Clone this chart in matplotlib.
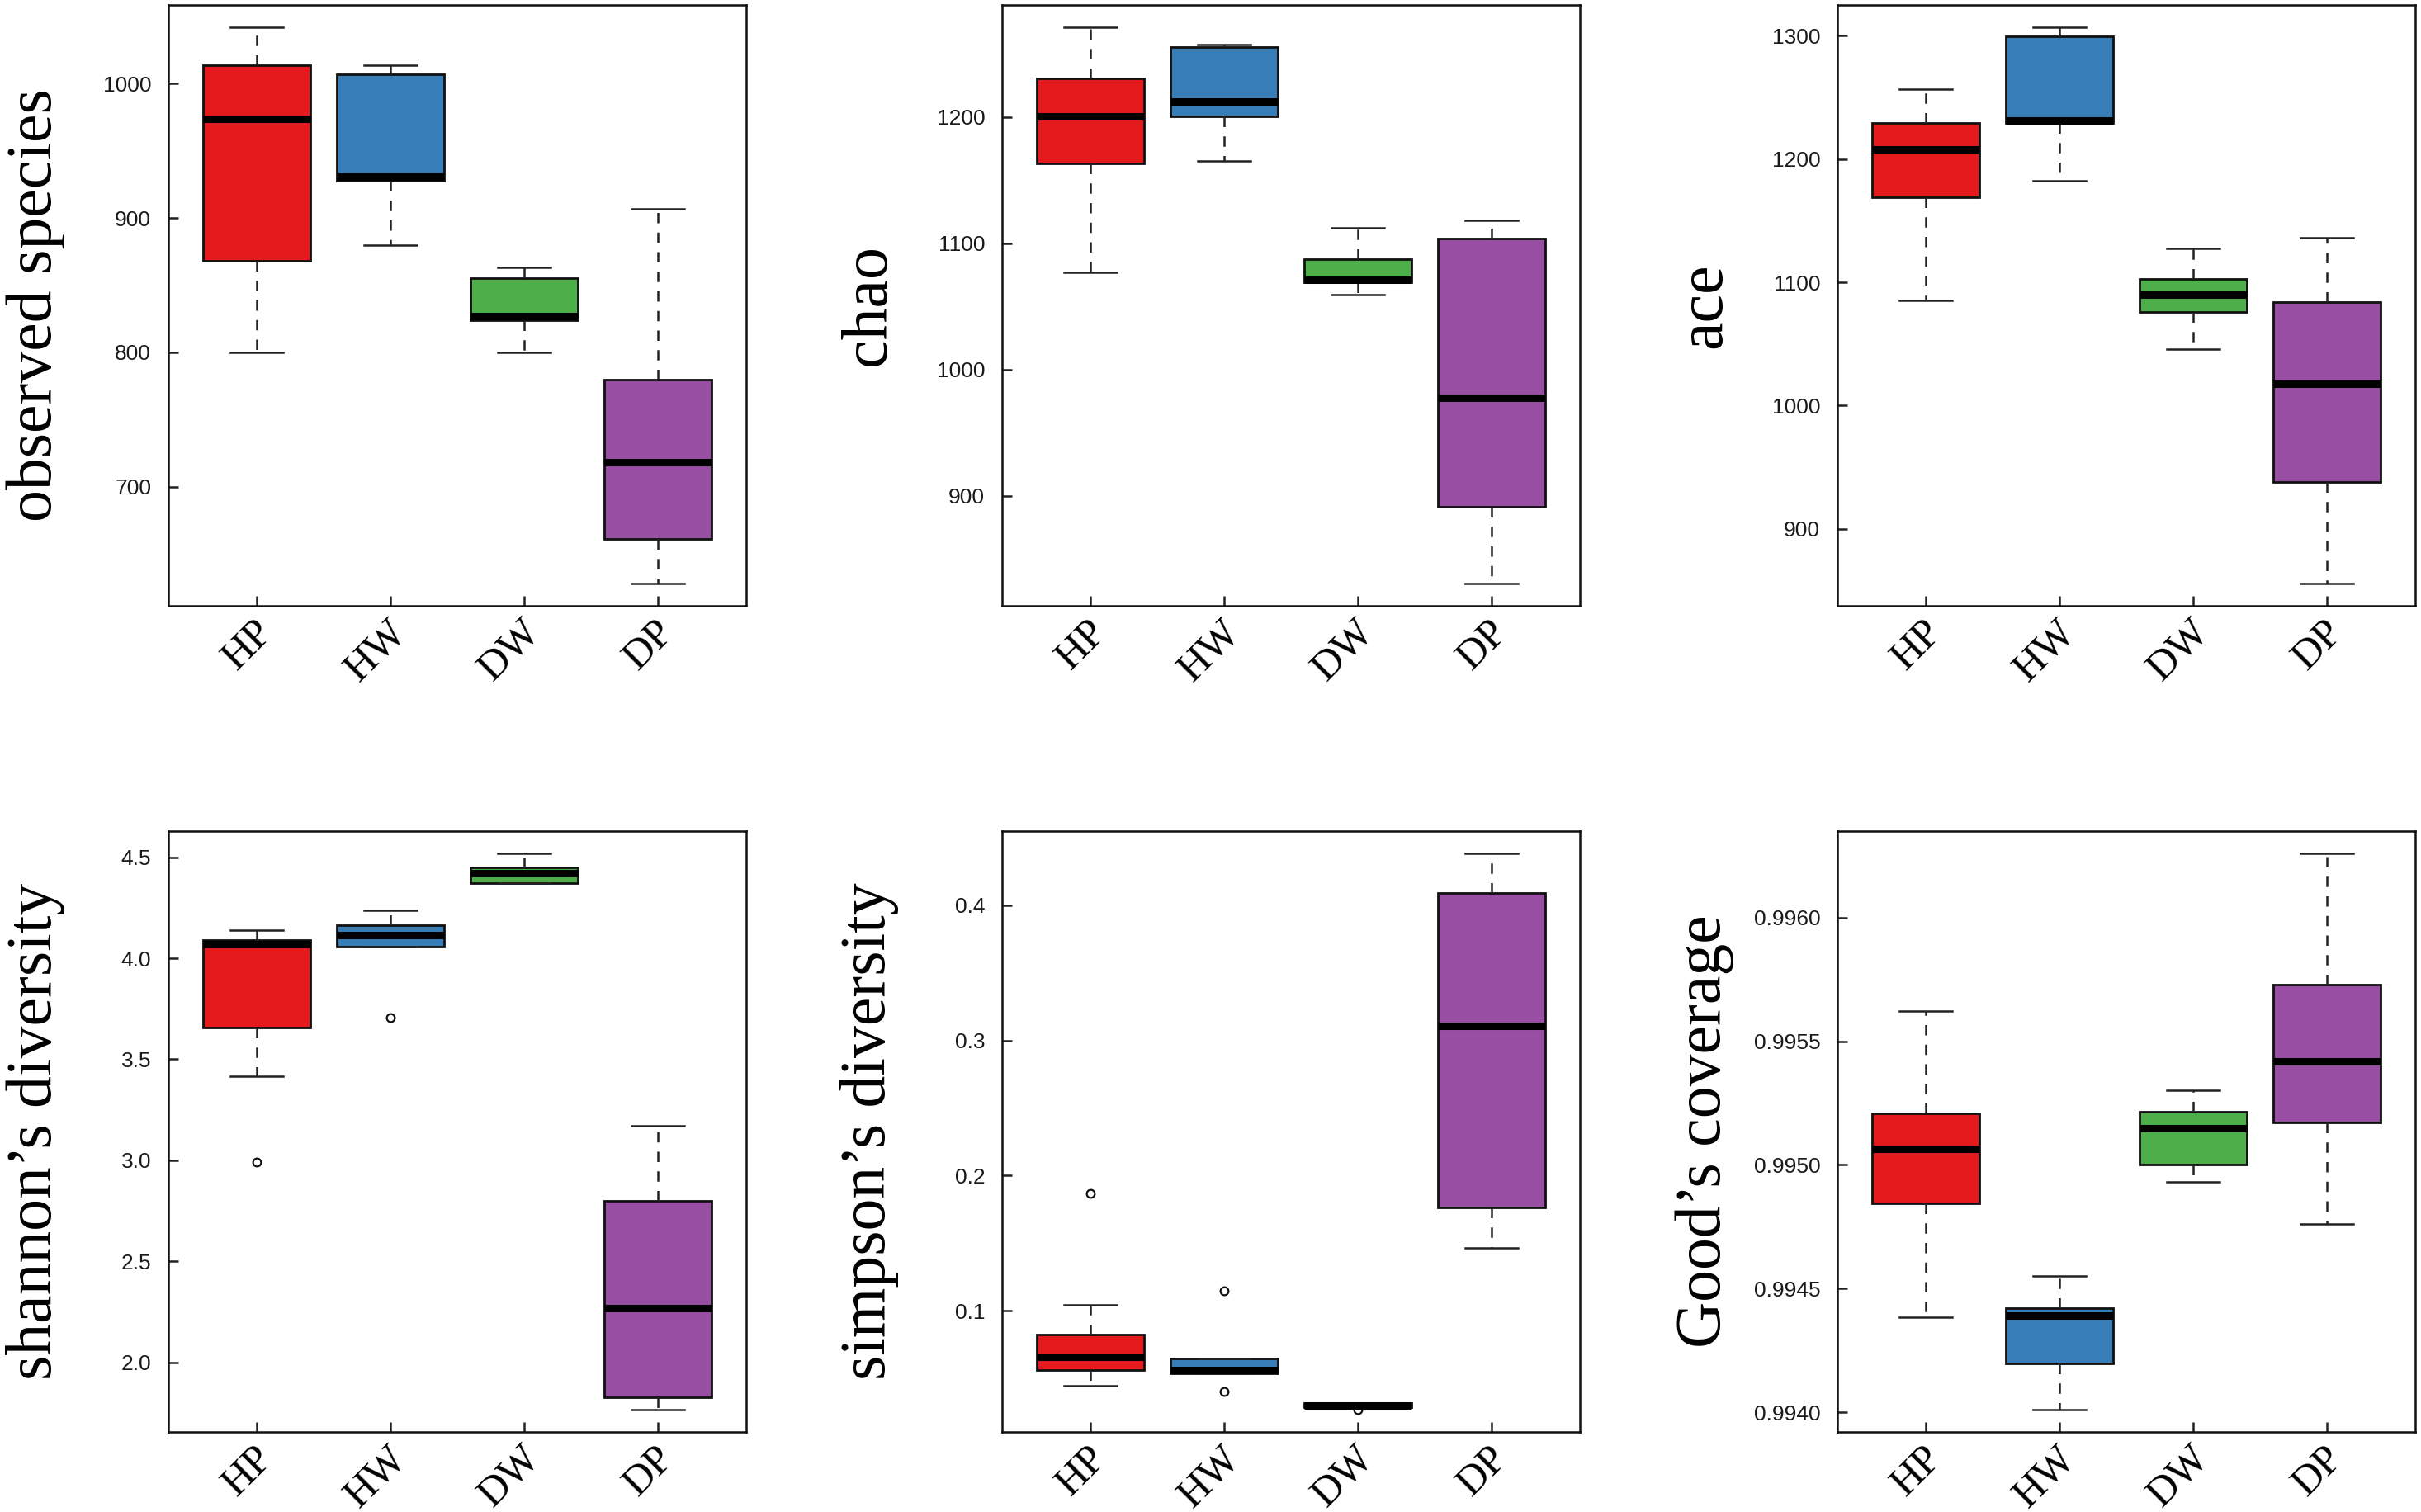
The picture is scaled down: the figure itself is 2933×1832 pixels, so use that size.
import matplotlib
matplotlib.use("Agg")
import matplotlib.pyplot as plt
import matplotlib.transforms as mtransforms

groups = ["HP", "HW", "DW", "DP"]
box_colors = ["#E41A1C", "#377EB8", "#4DAF4A", "#984EA3"]

# per group: whisker low, Q1, median, Q3, whisker high
observed_stats = [[800, 868, 974, 1014, 1042],
                  [880, 928, 931, 1007, 1014],
                  [800, 824, 827, 855, 863],
                  [628, 661, 718, 780, 907]]
observed_out = [[], [], [], []]
observed_ticks = [700, 800, 900, 1000]
observed_labels = ["700", "800", "900", "1000"]

chao_stats = [[1077, 1163.5, 1200.7, 1230.7, 1271],
              [1165, 1200.3, 1212, 1255.6, 1257],
              [1059.4, 1069, 1071.3, 1087.7, 1112],
              [830.7, 891.5, 977.8, 1103.8, 1118]]
chao_out = [[], [], [], []]
chao_ticks = [900, 1000, 1100, 1200]
chao_labels = ["900", "1000", "1100", "1200"]

ace_stats = [[1085, 1169, 1208, 1229, 1257],
             [1182.5, 1229.4, 1231.2, 1299.4, 1307],
             [1045.8, 1076.2, 1090.2, 1102.5, 1127.7],
             [855.6, 937.9, 1018, 1083.8, 1136.3]]
ace_out = [[], [], [], []]
ace_ticks = [900, 1000, 1100, 1200, 1300]
ace_labels = ["900", "1000", "1100", "1200", "1300"]

shannon_stats = [[3.417, 3.656, 4.069, 4.089, 4.14],
                 [4.058, 4.058, 4.113, 4.162, 4.237],
                 [4.373, 4.373, 4.421, 4.45, 4.519],
                 [1.766, 1.828, 2.27, 2.798, 3.17]]
shannon_out = [[2.993], [3.707], [], []]
shannon_ticks = [2.0, 2.5, 3.0, 3.5, 4.0, 4.5]
shannon_labels = ["2.0", "2.5", "3.0", "3.5", "4.0", "4.5"]

simpson_stats = [[0.0446, 0.0559, 0.0658, 0.0821, 0.1043],
                 [0.0539, 0.0539, 0.0559, 0.0648, 0.0648],
                 [0.0283, 0.0283, 0.0300, 0.0316, 0.0316],
                 [0.1467, 0.1766, 0.311, 0.409, 0.4385]]
simpson_out = [[0.1866], [0.1149, 0.0403], [0.0267], []]
simpson_ticks = [0.1, 0.2, 0.3, 0.4]
simpson_labels = ["0.1", "0.2", "0.3", "0.4"]

goods_stats = [[0.994386, 0.994844, 0.995065, 0.995207, 0.995623],
               [0.994011, 0.994199, 0.994391, 0.994422, 0.994551],
               [0.994931, 0.995000, 0.995150, 0.995214, 0.995301],
               [0.994761, 0.995172, 0.995418, 0.995730, 0.996259]]
goods_out = [[], [], [], []]
goods_ticks = [0.9940, 0.9945, 0.9950, 0.9955, 0.9960]
goods_labels = ["0.9940", "0.9945", "0.9950", "0.9955", "0.9960"]

panels = [
    ("observed species", observed_stats, observed_out, observed_ticks, observed_labels),
    ("chao", chao_stats, chao_out, chao_ticks, chao_labels),
    ("ace", ace_stats, ace_out, ace_ticks, ace_labels),
    ("shannon\u2019s diversity", shannon_stats, shannon_out, shannon_ticks, shannon_labels),
    ("simpson\u2019s diversity", simpson_stats, simpson_out, simpson_ticks, simpson_labels),
    ("Good\u2019s coverage", goods_stats, goods_out, goods_ticks, goods_labels),
]

W, H = 2933, 1832
col_left = [204, 1214, 2226]
ax_w = 700
row_top = [6, 1007]
ax_h = 728

fig = plt.figure(figsize=(W / 100, H / 100), dpi=100)

serif = ["Liberation Serif", "DejaVu Serif"]
sans = ["Liberation Sans", "DejaVu Sans"]

# nudge the slanted group labels to the right, like the R output
shift = mtransforms.ScaledTranslation(0.12, 0.0, fig.dpi_scale_trans)

for i, (label, stats, outs, ticks, tick_labels) in enumerate(panels):
    r, c = divmod(i, 3)
    rect = [col_left[c] / W, 1 - (row_top[r] + ax_h) / H, ax_w / W, ax_h / H]
    ax = fig.add_axes(rect)

    bstats = []
    for s, o in zip(stats, outs):
        bstats.append({"whislo": s[0], "q1": s[1], "med": s[2], "q3": s[3], "whishi": s[4], "fliers": o})

    bp = ax.bxp(bstats, positions=[1, 2, 3, 4], widths=0.8, capwidths=0.4,
                patch_artist=True, showfliers=True,
                boxprops=dict(edgecolor="#111111", linewidth=2.0),
                medianprops=dict(color="black", linewidth=6.5, solid_capstyle="butt"),
                whiskerprops=dict(color="#222222", linewidth=1.8, linestyle=(0, (5, 4.5))),
                capprops=dict(color="#222222", linewidth=1.8),
                flierprops=dict(marker="o", markersize=7, markerfacecolor="none",
                                markeredgecolor="#111111", markeredgewidth=1.6))
    for patch, col in zip(bp["boxes"], box_colors):
        patch.set_facecolor(col)

    lo = min(min(s[0] for s in stats), min([v for o in outs for v in o], default=1e9))
    hi = max(max(s[4] for s in stats), max([v for o in outs for v in o], default=-1e9))
    pad = (hi - lo) * 0.04
    ax.set_ylim(lo - pad, hi + pad)
    ax.set_xlim(0.34, 4.66)

    ax.tick_params(axis="both", direction="in", length=8.5, width=1.8, color="#222222")
    ax.tick_params(axis="y", pad=15)
    ax.tick_params(axis="x", pad=18)
    for sp in ax.spines.values():
        sp.set_linewidth(1.8)
        sp.set_color("#111111")

    ax.set_yticks(ticks)
    ax.set_yticklabels(tick_labels, family=sans, fontsize=19, color="#1a1a1a")
    ax.set_xticks([1, 2, 3, 4])
    ax.set_xticklabels(groups, family=serif, fontsize=36)
    for t in ax.get_xticklabels():
        t.set_rotation(45)
        t.set_ha("right")
        t.set_va("center")
        t.set_rotation_mode("anchor")
        t.set_transform(t.get_transform() + shift)

    ax.set_ylabel(label, family=serif, fontsize=56)
    ax.yaxis.set_label_coords(-0.178, 0.5)

fig.savefig("out.png", dpi=100)
